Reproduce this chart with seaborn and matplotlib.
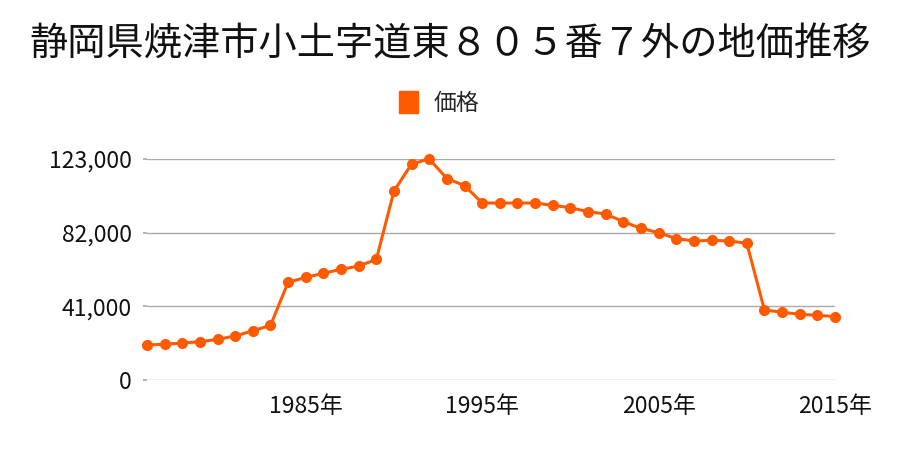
import matplotlib
matplotlib.use("Agg")
import matplotlib.pyplot as plt
import seaborn as sns
import pandas as pd
from matplotlib.patches import Patch

years = list(range(1976, 2016))
prices = [19500, 19900, 20600, 21300, 22600, 24500, 27400, 30400,
          54400, 57100, 59400, 61600, 63400, 67100, 105200, 120200,
          123000, 112100, 108200, 98500, 98500, 98500, 98500, 97200,
          95900, 93700, 92400, 88100, 84400, 82000, 78700, 77400,
          77700, 77400, 76100, 39000, 37700, 36600, 36000, 35300]
y_ticks = [0, 41000, 82000, 123000]
x_ticks = [1985, 1995, 2005, 2015]
title = "静岡県焼津市小土字道東８０５番７外の地価推移"
series_name = "価格"

sns.set_theme(style="white")
plt.rcParams['font.family'] = ['Noto Sans CJK JP', 'DejaVu Sans']

df = pd.DataFrame({"year": years, "price": prices})
color = "#FF5A00"

fig = plt.figure(figsize=(9, 4.5), dpi=100)
ax = fig.add_axes([147/900, 1 - 380/450, (835 - 147)/900, (380 - 159)/450])

sns.lineplot(data=df, x="year", y="price", ax=ax, color=color, linewidth=2.2,
             marker="o", markersize=8, markeredgewidth=0, clip_on=False, zorder=3)

ax.set_xlim(1976, 2015)
ax.set_ylim(0, 123000)
ax.set_yticks(y_ticks)
ax.set_yticklabels([f"{v:,}" for v in y_ticks], fontsize=16.5, color="#111111")
ax.set_xticks(x_ticks)
ax.set_xticklabels([f"{v}年" for v in x_ticks], fontsize=16.5, color="#111111")
ax.grid(axis="y", color="#AAAAAA", linewidth=1)
ax.grid(axis="x", visible=False)
for s in ax.spines.values():
    s.set_visible(False)
ax.tick_params(axis="y", length=3, color="#AAAAAA", pad=8, left=True)
ax.tick_params(axis="x", length=0, pad=11)
ax.set_xlabel("")
ax.set_ylabel("")

fig.text(0.5, 1 - 45/450, title, ha="center", va="center", fontsize=27.5, color="#111111")

handle = Patch(facecolor=color, edgecolor=color)
fig.legend([handle], [series_name], loc="center", bbox_to_anchor=(0.488, 1 - 103/450),
           frameon=False, fontsize=16.5, handlelength=0.85, handleheight=1.1, handletextpad=0.7)

fig.savefig("out.png", dpi=100)
